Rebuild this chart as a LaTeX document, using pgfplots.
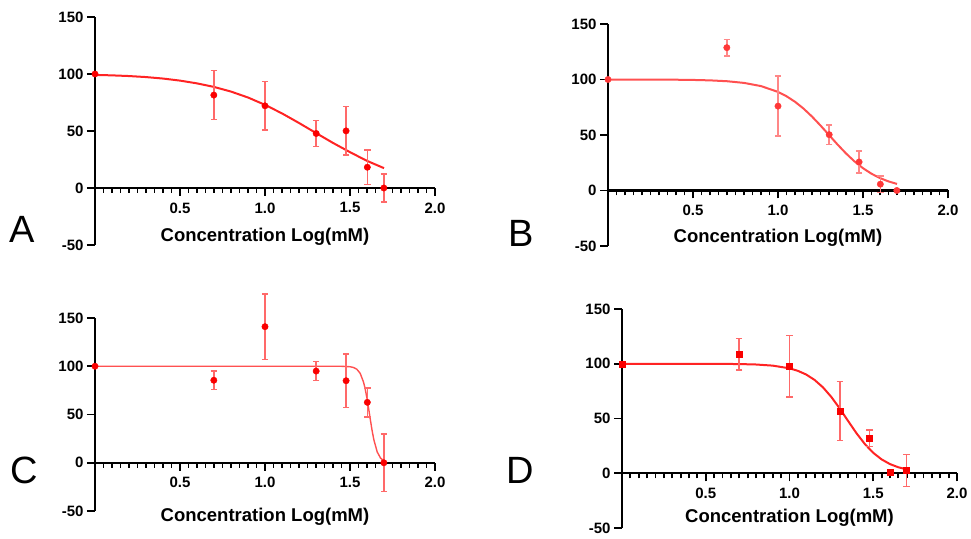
\documentclass[border=0pt]{standalone}
\usepackage{pgfplots}
\pgfplotsset{compat=1.18}
\usepackage{fontspec}
\setmainfont{Liberation Sans}

\definecolor{fitred}{RGB}{255,35,35}
\definecolor{ptred}{RGB}{250,0,0}
\definecolor{errred}{RGB}{255,105,105}
\definecolor{pinkfit}{RGB}{255,80,80}
\definecolor{pinkpt}{RGB}{255,55,55}
\definecolor{pinkerr}{RGB}{255,135,135}

\pgfplotsset{
  panel/.style={
    scale only axis,
    width=340pt,
    xmin=0, xmax=2, ymin=-50, ymax=150,
    axis x line=middle, axis y line=left,
    x axis line style={line width=2.3pt, -, black},
    y axis line style={line width=2.3pt, -, black},
    hide obscured x ticks=false, hide obscured y ticks=false,
    xtick={0,0.5,1,1.5,2},
    xticklabels={,0.5,1.0,1.5,2.0},
    minor x tick num=9,
    ytick={-50,0,50,100,150},
    yticklabels={-50,0,50,100,150},
    tick align=outside,
    major tick length=8pt, minor tick length=5pt,
    xtick style={line width=1.9pt, black},
    ytick style={line width=1.9pt, black},
    tick label style={font=\fontsize{15}{15}\selectfont\bfseries},
    xticklabel style={yshift=-3pt},
    xlabel={Concentration Log(mM)},
    xlabel style={font=\fontsize{18.5}{20}\selectfont\bfseries, anchor=center},
    clip=false,
  },
}

\begin{document}
\begin{tikzpicture}
\path[use as bounding box] (0pt,0pt) rectangle (971pt,538pt);

% ---------- A ----------
\begin{axis}[panel, height=228pt, at={(95pt,293pt)}, anchor=south west,
  xlabel style={at={(axis cs:1,-43)}}]
\addplot[line width=2pt, no markers, fitred] coordinates {
  (0,99.2)(0.1,98.80)(0.2,98.20)(0.3,97.30)(0.4,96.00)(0.5,94.20)
  (0.6,91.77)(0.7,88.66)(0.8,84.58)(0.9,79.37)(1.0,72.96)(1.1,65.43)
  (1.2,57.03)(1.3,48.23)(1.4,39.53)(1.5,31.43)(1.6,23.80)(1.7,17.40)};
\addplot[only marks, mark=*, mark size=3.2pt, ptred,
  error bars/.cd, y dir=both, y explicit,
  error bar style={line width=1.5pt, errred},
  error mark options={rotate=90, mark size=3.2pt, line width=1.5pt, errred}] coordinates {
  (0,100) +- (0,0)
  (0.699,81.5) +- (0,21.5)
  (1.0,72.1) +- (0,21.2)
  (1.301,47.8) +- (0,11.5)
  (1.477,50.1) +- (0,21.3)
  (1.602,18.2) +- (0,15.0)
  (1.699,0) +- (0,12.3)};
\end{axis}

% ---------- B ----------
\begin{axis}[panel, height=222pt, at={(608pt,292pt)}, anchor=south west,
  xlabel style={at={(axis cs:1,-43)}}]
\addplot[line width=2pt, no markers, pinkfit] coordinates {
  (0,99.99)(0.2,99.95)(0.4,99.80)(0.5,99.60)(0.6,99.21)(0.7,98.44)
  (0.8,96.93)(0.9,94.06)(1.0,88.82)(1.05,84.91)(1.1,79.92)(1.15,73.81)
  (1.2,66.61)(1.25,58.55)(1.3,50)(1.35,41.45)(1.4,33.39)(1.45,26.19)
  (1.5,20.08)(1.55,15.10)(1.6,11.18)(1.65,8.18)(1.7,5.93)};
\addplot[only marks, mark=*, mark size=3.2pt, pinkpt,
  error bars/.cd, y dir=both, y explicit,
  error bar style={line width=1.5pt, pinkerr},
  error mark options={rotate=90, mark size=3.2pt, line width=1.5pt, pinkerr}] coordinates {
  (0,100) +- (0,0)
  (0.699,128.7) +- (0,7.5)
  (1.0,76) +- (0,27)
  (1.301,50.3) +- (0,8.7)
  (1.477,25.7) +- (0,9.8)
  (1.602,5.7) +- (0,7.5)
  (1.699,0) +- (0,0)};
\end{axis}

% ---------- C ----------
\begin{axis}[panel, height=193pt, at={(95pt,27pt)}, anchor=south west,
  xlabel style={at={(axis cs:1,-56)}}]
\addplot[line width=1.4pt, no markers, pinkfit] coordinates {
  (0,100)(1.4,99.99)(1.45,99.95)(1.5,99.50)(1.52,98.76)(1.54,96.93)
  (1.56,92.64)(1.58,83.37)(1.59,75.98)(1.60,66.61)(1.61,55.73)(1.62,44.27)
  (1.63,33.39)(1.64,24.03)(1.66,11.18)(1.68,4.77)(1.70,1.96)};
\addplot[only marks, mark=*, mark size=3.2pt, ptred,
  error bars/.cd, y dir=both, y explicit,
  error bar style={line width=1.5pt, errred},
  error mark options={rotate=90, mark size=3.2pt, line width=1.5pt, errred}] coordinates {
  (0,100) +- (0,0)
  (0.699,85.5) +- (0,9.5)
  (1.0,141) +- (0,34)
  (1.301,95) +- (0,10)
  (1.477,85) +- (0,27.5)
  (1.602,62.6) +- (0,15)
  (1.699,0) +- (0,29.7)};
\end{axis}

% ---------- D ----------
\begin{axis}[panel, width=335pt, height=219pt, at={(622pt,10pt)}, anchor=south west,
  xlabel style={at={(axis cs:1,-41)}}]
\addplot[line width=2pt, no markers, fitred] coordinates {
  (0,100)(0.5,99.96)(0.7,99.73)(0.8,99.31)(0.9,98.29)(1.0,95.82)
  (1.05,93.53)(1.1,90.12)(1.15,85.19)(1.2,78.41)(1.25,69.61)(1.3,59.11)
  (1.35,47.70)(1.4,36.52)(1.45,26.64)(1.5,18.64)(1.55,12.63)(1.6,8.36)
  (1.65,5.44)(1.7,3.50)};
\addplot[only marks, mark=square*, mark size=3pt, ptred,
  error bars/.cd, y dir=both, y explicit,
  error bar style={line width=1.5pt, errred},
  error mark options={rotate=90, mark size=3.2pt, line width=1.5pt, errred}] coordinates {
  (0,100) +- (0,0)
  (0.699,108.8) +- (0,14.3)
  (1.0,97.6) +- (0,28)
  (1.301,57) +- (0,27)
  (1.477,32.1) +- (0,7.5)
  (1.602,0.9) +- (0,0)
  (1.699,2.4) +- (0,14.5)};
\end{axis}

% panel letters
\node[font=\fontsize{38}{38}\selectfont] at (22pt,309pt) {A};
\node[font=\fontsize{38}{38}\selectfont] at (521pt,305pt) {B};
\node[font=\fontsize{38}{38}\selectfont] at (24pt,68pt) {C};
\node[font=\fontsize{38}{38}\selectfont] at (520pt,68pt) {D};
\end{tikzpicture}
\end{document}
